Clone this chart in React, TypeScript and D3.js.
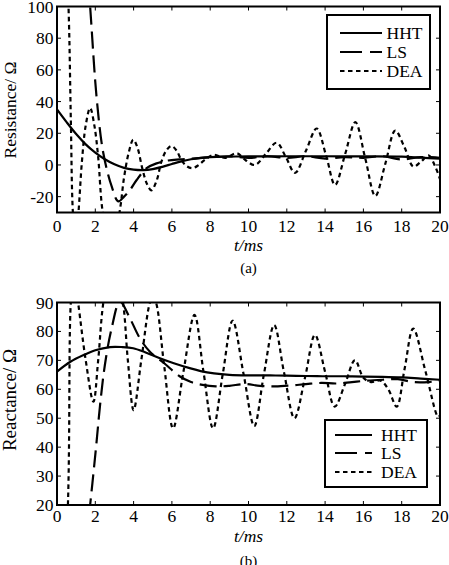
import * as d3 from "d3"

const W = 449
const H = 565
const FONT = "'Liberation Serif', 'Times New Roman', serif"

const X_TICKS = [0, 2, 4, 6, 8, 10, 12, 14, 16, 18, 20]
const RES_TICKS = [-20, 0, 20, 40, 60, 80, 100]
const REACT_TICKS = [20, 30, 40, 50, 60, 70, 80, 90]
const SERIES_NAMES = ["HHT", "LS", "DEA"]

// resistance (Ω) against t (ms)
const resHhtT = [0, 0.5, 1, 1.5, 2, 2.5, 3, 3.5, 4, 4.5, 5, 5.5, 6, 6.5, 7, 7.5, 8, 9, 10, 12, 14, 16, 18, 19, 20]
const resHhtV = [35, 27, 19.5, 13, 7.8, 3.6, 0.4, -1.8, -2.9, -3.2, -2.6, -1.2, 0.6, 2.3, 3.6, 4.5, 5, 5.3, 5.4, 5.5, 5.5, 5.4, 5.2, 4.6, 4]
const resLsT = [1.2, 1.73, 2.08, 2.42, 2.86, 3.2, 3.5, 3.81, 4.16, 4.68, 5.2, 5.8, 6.4, 7, 7.6, 8.2, 9, 10, 11, 12, 13, 14, 15, 16, 17, 18, 19, 20]
const resLsV = [190, 100, 41, 7.4, -13.7, -23, -20, -15.8, -9.5, -2, 1, 2.8, 3.5, 4, 4.5, 5, 5.5, 4.5, 5.5, 4.5, 5.5, 4, 5, 4.5, 5.5, 3.5, 5, 4.5]
const resDeaT = [0, 0.3, 0.6, 0.72, 0.83, 0.97, 1.12, 1.3, 1.5, 1.73, 1.95, 2.15, 2.39, 2.85, 3.29, 3.5, 3.75, 3.98, 4.2, 4.45, 4.7, 4.93, 5.2, 5.45, 5.7, 5.97, 6.25, 6.5, 6.8, 7.1, 7.4, 7.7, 8.17, 8.8, 9.39, 9.85, 10.34, 10.9, 11.47, 11.95, 12.43, 13, 13.56, 14.05, 14.52, 15.05, 15.58, 16.1, 16.62, 17.15, 17.66, 18.15, 18.61, 19, 19.4, 19.75, 20]
const resDeaV = [260, 180, 100, 30, -30, -48, -30, 2, 25, 36, 25, 5, -30, -55, -28, -8, 8, 16, 11, -2, -12, -16, -10, 2, 9, 12, 9, 3, -1, -2, 0, 3, 6.3, 4.5, 7.4, 3, 0, 7, 14, 5, -5, 9, 23, 6, -12.6, 7, 27, 4, -19.6, 1, 21.7, 11, -1, 2, 6, -1, -9]

// reactance (Ω) against t (ms)
const reaHhtT = [0, 0.7, 1.38, 2, 2.77, 3.4, 3.98, 4.6, 5.37, 6.1, 6.93, 7.5, 8.2, 9, 10, 11, 12, 13, 14, 15, 16, 17, 18, 19, 20]
const reaHhtV = [66.1, 69.5, 71.8, 73.5, 74.6, 74.6, 74.2, 72.8, 70.7, 69, 67.3, 66.3, 65.5, 65, 64.8, 64.8, 64.7, 64.6, 64.5, 64.5, 64.4, 64.3, 64.1, 63.7, 63.3]
const reaLsT = [1.4, 1.73, 2.05, 2.25, 2.5, 2.85, 3.29, 3.81, 4.33, 4.85, 5.6, 6.4, 7, 7.6, 8.3, 9, 9.8, 10.6, 11.4, 12.2, 13, 13.8, 14.6, 15.4, 16.2, 17, 17.8, 18.6, 19.4, 20]
const reaLsV = [0, 20, 40.7, 54.6, 68.4, 81, 90.3, 84.5, 77.6, 73, 69, 64.5, 62.5, 61.5, 61, 61.2, 61.8, 61.2, 61, 61.3, 61.8, 62.2, 62, 62.5, 63, 63.3, 63.5, 62.5, 62.5, 63]
const reaDeaT = [0, 0.57, 0.72, 0.87, 1.1, 1.5, 1.9, 2.15, 2.42, 2.95, 3.45, 3.7, 4, 4.4, 4.85, 5, 5.17, 5.6, 6.06, 6.6, 7.18, 7.65, 8.15, 8.65, 9.17, 9.75, 10.3, 10.8, 11.34, 11.85, 12.4, 12.95, 13.47, 14, 14.5, 15.05, 15.56, 16, 16.4, 16.9, 17.3, 17.74, 18.15, 18.6, 19.25, 19.9, 20]
const reaDeaV = [-60, 20, 90, 100, 90, 70, 55.7, 70, 90, 108, 90, 70, 52.8, 70, 90, 92, 90, 68, 46.5, 66, 85.7, 66, 46.5, 65, 83.7, 65, 47.3, 65, 82.2, 66, 50, 64, 78.8, 66, 54, 62, 70.1, 64, 62.5, 63, 60, 54, 67, 81, 66, 50.5, 51]

const STYLES = [
  { dash: "none", width: 2.2 },
  { dash: "17,7", width: 2.2 },
  { dash: "4.5,3.5", width: 2.2 },
]

type Series = { t: number[]; v: number[] }
type Legend = { x: number; y: number; w: number; h: number; rows: number[]; x1: number; x2: number; tx: number }

function Panel(props: {
  id: string
  top: number
  bottom: number
  yDomain: [number, number]
  yTicks: number[]
  series: Series[]
  legend: Legend
  ylabel: string
  ylabelY: number
  ylabelSize: number
  tickBase: number
  titleBase: number
  caption: string
  captionBase: number
}) {
  const { id, top, bottom, yDomain, yTicks, series, legend } = props
  const left = 57
  const right = 440
  const x = d3.scaleLinear().domain([0, 20]).range([left, right])
  const y = d3.scaleLinear().domain(yDomain).range([bottom, top])
  const line = d3
    .line<[number, number]>()
    .x((d) => x(d[0]))
    .y((d) => y(d[1]))
    .curve(d3.curveCatmullRom.alpha(0.5))
  const tick = 4

  return (
    <g>
      <defs>
        <clipPath id={id}>
          <rect x={left} y={top} width={right - left} height={bottom - top} />
        </clipPath>
      </defs>
      <g clipPath={`url(#${id})`}>
        {series.map((s, i) => (
          <path
            key={i}
            d={line(s.t.map((t, j) => [t, s.v[j]] as [number, number])) ?? ""}
            fill="none"
            stroke="#000"
            strokeWidth={STYLES[i].width}
            strokeDasharray={STYLES[i].dash}
          />
        ))}
      </g>

      {/* ticks on all four sides, pointing inward */}
      {X_TICKS.map((t) => (
        <g key={`x${t}`}>
          <line x1={x(t)} x2={x(t)} y1={bottom} y2={bottom - tick} stroke="#000" strokeWidth={1} />
          <line x1={x(t)} x2={x(t)} y1={top} y2={top + tick} stroke="#000" strokeWidth={1} />
          <text x={x(t)} y={props.tickBase} textAnchor="middle" fontSize={17.5}>
            {t}
          </text>
        </g>
      ))}
      {yTicks.map((v) => (
        <g key={`y${v}`}>
          <line x1={left} x2={left + tick} y1={y(v)} y2={y(v)} stroke="#000" strokeWidth={1} />
          <line x1={right} x2={right - tick} y1={y(v)} y2={y(v)} stroke="#000" strokeWidth={1} />
          <text x={53.5} y={y(v) + 6} textAnchor="end" fontSize={17.5}>
            {v}
          </text>
        </g>
      ))}

      <rect x={left} y={top} width={right - left} height={bottom - top} fill="none" stroke="#000" strokeWidth={2} />

      <g>
        <rect x={legend.x} y={legend.y} width={legend.w} height={legend.h} fill="#fff" stroke="#000" strokeWidth={2} />
        {SERIES_NAMES.map((name, i) => (
          <g key={name}>
            <line
              x1={legend.x1}
              x2={legend.x2}
              y1={legend.rows[i]}
              y2={legend.rows[i]}
              stroke="#000"
              strokeWidth={STYLES[i].width}
              strokeDasharray={i === 1 ? "22,8" : STYLES[i].dash}
            />
            <text x={legend.tx} y={legend.rows[i] + 6} fontSize={17.5}>
              {name}
            </text>
          </g>
        ))}
      </g>

      <text transform={`translate(16, ${props.ylabelY}) rotate(-90)`} textAnchor="middle" fontSize={props.ylabelSize}>
        {props.ylabel}
      </text>
      <text x={(left + right) / 2} y={props.titleBase} textAnchor="middle" fontSize={17.5} fontStyle="italic">
        t/ms
      </text>
      <text x={(left + right) / 2} y={props.captionBase} textAnchor="middle" fontSize={15}>
        {props.caption}
      </text>
    </g>
  )
}

export default function App() {
  return (
    <div style={{ position: "absolute", left: 0, top: 0, width: W, height: H, background: "#fff" }}>
      <svg width={W} height={H} viewBox={`0 0 ${W} ${H}`} style={{ display: "block" }} fontFamily={FONT}>
        <rect width={W} height={H} fill="#fff" />
        <Panel
          id="clip-res"
          top={6.5}
          bottom={212.5}
          yDomain={[-30, 100]}
          yTicks={RES_TICKS}
          series={[
            { t: resHhtT, v: resHhtV },
            { t: resLsT, v: resLsV },
            { t: resDeaT, v: resDeaV },
          ]}
          legend={{ x: 327, y: 15, w: 103, h: 74, rows: [33, 52, 71], x1: 340, x2: 382, tx: 386.5 }}
          ylabel="Resistance/ Ω"
          ylabelY={110}
          ylabelSize={17.5}
          tickBase={232}
          titleBase={250.5}
          caption="(a)"
          captionBase={273}
        />
        <Panel
          id="clip-react"
          top={302.5}
          bottom={505}
          yDomain={[20, 90]}
          yTicks={REACT_TICKS}
          series={[
            { t: reaHhtT, v: reaHhtV },
            { t: reaLsT, v: reaLsV },
            { t: reaDeaT, v: reaDeaV },
          ]}
          legend={{ x: 325, y: 420, w: 102, h: 67, rows: [435, 453, 472], x1: 335, x2: 372, tx: 381 }}
          ylabel="Reactance/ Ω"
          ylabelY={400}
          ylabelSize={19}
          tickBase={521.5}
          titleBase={541.5}
          caption="(b)"
          captionBase={566}
        />
      </svg>
    </div>
  )
}
